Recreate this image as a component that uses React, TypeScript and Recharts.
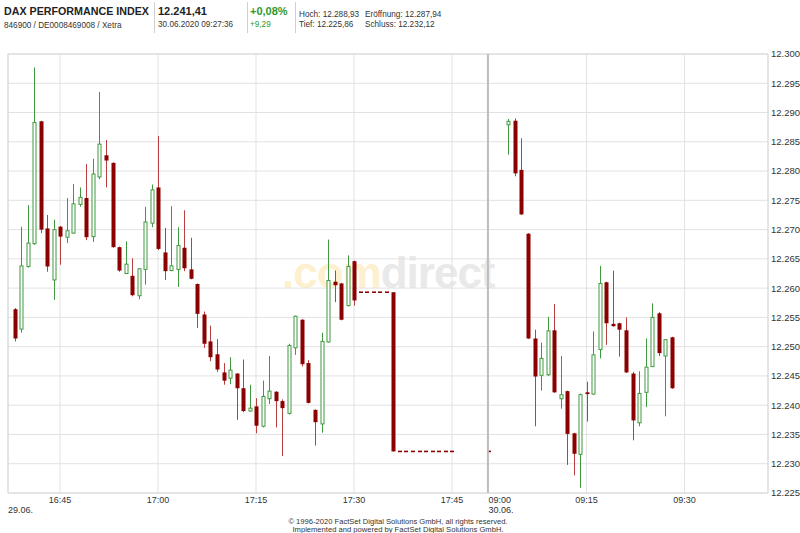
import React from 'react';
import { ComposedChart, Bar, XAxis, YAxis, CartesianGrid, ReferenceLine, ReferenceArea } from 'recharts';

// minute candles, 29.06. afternoon and 30.06. morning
const times = [
  '16:38', '16:39', '16:40', '16:41', '16:42', '16:43', '16:44', '16:45', '16:46', '16:47',
  '16:48', '16:49', '16:50', '16:51', '16:52', '16:53', '16:54', '16:55', '16:56', '16:57',
  '16:58', '16:59', '17:00', '17:01', '17:02', '17:03', '17:04', '17:05', '17:06', '17:07',
  '17:08', '17:09', '17:10', '17:11', '17:12', '17:13', '17:14', '17:15', '17:16', '17:17',
  '17:18', '17:19', '17:20', '17:21', '17:22', '17:23', '17:24', '17:25', '17:26', '17:27',
  '17:28', '17:29', '17:30', '17:31', '17:32', '17:33', '17:34', '17:35', '17:36', '17:37',
  '17:38', '17:39', '17:40', '17:41', '17:42', '17:43', '17:44', '17:45',
  '09:00', '09:03', '09:04', '09:05', '09:06', '09:07', '09:08', '09:09', '09:10', '09:11',
  '09:12', '09:13', '09:14', '09:15', '09:16', '09:17', '09:18', '09:19', '09:20', '09:21',
  '09:22', '09:23', '09:24', '09:25', '09:26', '09:27', '09:28',
];

const opens = [
  12256.4, 12253.0, 12263.7, 12267.6, 12288.5, 12270.2, 12261.4, 12270.5, 12268.7, 12269.4,
  12274.3, 12275.4, 12268.8, 12279.0, 12282.7, 12281.4, 12267.0, 12262.5, 12262.1, 12258.7,
  12263.2, 12271.1, 12277.2, 12266.1, 12263.0, 12263.2, 12266.9, 12263.2, 12260.7, 12255.5,
  12250.9, 12248.7, 12245.6, 12244.6, 12245.4, 12242.9, 12239.0, 12239.8, 12236.4, 12241.1,
  12242.3, 12240.7, 12238.6, 12249.8, 12254.6, 12247.2, 12239.2, 12236.8, 12250.8, 12261.1,
  12260.8, 12257.0, 12264.6, 12259.3, 12259.3, 12259.3, 12259.3, 12259.3, 12259.3, 12232.1,
  12232.1, 12232.1, 12232.1, 12232.1, 12232.1, 12232.1, 12232.1, 12232.1,
  12232.1, 12287.9, 12288.6, 12280.2, 12269.3, 12251.4, 12245.1, 12245.2, 12252.8, 12241.1,
  12242.4, 12235.2, 12231.6, 12242.2, 12241.9, 12249.5, 12261.0, 12253.9, 12254.0, 12252.8,
  12245.4, 12237.0, 12242.2, 12246.6, 12255.7, 12248.4, 12251.6,
];

const highs = [
  12256.6, 12270.5, 12274.2, 12297.7, 12288.6, 12272.5, 12271.7, 12270.6, 12275.4, 12277.8,
  12277.2, 12281.2, 12282.1, 12293.5, 12285.3, 12281.5, 12267.1, 12268.0, 12265.1, 12263.4,
  12273.9, 12277.7, 12286.0, 12270.3, 12274.0, 12270.4, 12273.3, 12268.6, 12260.8, 12256.0,
  12253.6, 12251.3, 12247.2, 12248.2, 12245.5, 12247.8, 12243.5, 12241.2, 12244.2, 12248.4,
  12242.4, 12241.0, 12250.5, 12255.3, 12254.7, 12247.7, 12239.3, 12252.4, 12268.3, 12263.0,
  12260.9, 12265.6, 12264.7, 12259.3, 12259.3, 12259.3, 12259.3, 12259.3, 12259.3, 12232.1,
  12232.1, 12232.1, 12232.1, 12232.1, 12232.1, 12232.1, 12232.1, 12232.1,
  12232.1, 12288.9, 12289.0, 12285.6, 12269.4, 12252.9, 12250.7, 12255.1, 12257.3, 12248.4,
  12242.5, 12235.3, 12242.0, 12244.0, 12252.6, 12263.8, 12261.1, 12263.0, 12254.1, 12255.0,
  12245.7, 12245.8, 12251.4, 12257.4, 12255.9, 12251.3, 12251.7,
];

const lows = [
  12250.9, 12252.4, 12263.5, 12267.4, 12269.4, 12262.8, 12258.0, 12264.0, 12267.7, 12269.3,
  12273.9, 12268.2, 12267.9, 12278.6, 12277.2, 12266.9, 12262.8, 12262.4, 12258.6, 12258.1,
  12260.6, 12270.4, 12266.5, 12261.4, 12262.9, 12260.2, 12262.9, 12261.5, 12253.2, 12249.8,
  12247.5, 12245.7, 12243.5, 12243.6, 12237.5, 12238.8, 12238.9, 12235.2, 12236.2, 12240.2,
  12236.2, 12231.3, 12238.4, 12248.6, 12246.6, 12240.3, 12233.1, 12235.3, 12250.7, 12257.6,
  12254.5, 12256.9, 12257.0, 12259.3, 12259.3, 12259.3, 12259.3, 12259.3, 12232.1, 12232.1,
  12232.1, 12232.1, 12232.1, 12232.1, 12232.1, 12232.1, 12232.1, 12232.1,
  12232.1, 12282.8, 12279.1, 12272.5, 12251.3, 12236.4, 12242.5, 12245.0, 12242.1, 12239.4,
  12229.8, 12228.0, 12225.9, 12237.2, 12241.8, 12248.0, 12250.3, 12253.4, 12248.3, 12245.5,
  12234.0, 12236.4, 12239.7, 12246.5, 12248.4, 12238.1, 12242.8,
];

const closes = [
  12251.4, 12263.8, 12267.7, 12288.3, 12270.0, 12263.7, 12270.0, 12268.8, 12269.8, 12274.4,
  12275.5, 12268.7, 12279.5, 12284.6, 12281.8, 12267.0, 12263.0, 12264.1, 12258.8, 12263.3,
  12271.3, 12276.8, 12266.7, 12262.9, 12263.8, 12267.3, 12263.4, 12261.6, 12255.6, 12250.5,
  12248.2, 12246.1, 12244.2, 12246.0, 12242.9, 12239.0, 12239.5, 12236.5, 12241.5, 12242.4,
  12240.7, 12239.5, 12250.2, 12255.2, 12247.0, 12240.4, 12237.1, 12250.9, 12261.3, 12260.5,
  12254.6, 12263.7, 12257.9, 12259.3, 12259.3, 12259.3, 12259.3, 12259.3, 12232.1, 12232.1,
  12232.1, 12232.1, 12232.1, 12232.1, 12232.1, 12232.1, 12232.1, 12232.1,
  12232.1, 12288.5, 12279.6, 12272.6, 12251.4, 12244.9, 12248.0, 12252.7, 12242.2, 12241.8,
  12235.1, 12231.7, 12241.8, 12241.9, 12248.6, 12260.8, 12254.0, 12253.5, 12252.9, 12245.6,
  12237.4, 12242.0, 12246.5, 12255.0, 12248.9, 12251.2, 12242.9,
];

const xTickLabels = ['16:45', '17:00', '17:15', '17:30', '17:45', '09:00', '09:15', '09:30'];
const dateLabels = ['29.06.', '30.06.'];
const yTicks = [12225, 12230, 12235, 12240, 12245, 12250, 12255, 12260, 12265, 12270, 12275, 12280, 12285, 12290, 12295, 12300];

const RED = '#8b0000';
const RED_WICK = '#b84040';
const GREEN = '#3f9a3f';

// day 1 minutes count from 16:38, the overnight gap is collapsed
const DAY2_START = 72.6;
const X_MIN = -0.96;
const X_MAX = 115.37;

const slotOf = (t: string) => {
  const [h, m] = t.split(':').map(Number);
  const mins = h * 60 + m;
  return h >= 12 ? mins - (16 * 60 + 38) : DAY2_START + (mins - 9 * 60);
};

const data = times.map((t, i) => ({
  slot: slotOf(t),
  time: t,
  open: opens[i],
  high: highs[i],
  low: lows[i],
  close: closes[i],
  range: [lows[i], highs[i]],
}));

const tickSlots = xTickLabels.map(slotOf);

const fmtPrice = (v: number) => {
  const s = String(Math.round(v));
  return s.slice(0, s.length - 3) + '.' + s.slice(-3);
};

const Candle = (props: any) => {
  const { x, y, width, height, payload } = props;
  if (!payload) return null;
  const { open, close, high, low } = payload;
  const c = Math.round(x + width / 2);
  const top = Math.min(y, y + height);
  const bot = Math.max(y, y + height);
  if (high === low) {
    return <line x1={c - 2} x2={c + 2} y1={top} y2={top} stroke={RED} strokeWidth={1.6} />;
  }
  const k = (bot - top) / (high - low);
  const yOf = (p: number) => top + (high - p) * k;
  const up = close >= open;
  const bTop = yOf(Math.max(open, close));
  const bBot = yOf(Math.min(open, close));
  return (
    <g>
      <line x1={c + 0.5} x2={c + 0.5} y1={top} y2={bot} stroke={up ? GREEN : RED_WICK} strokeWidth={1} />
      {up ? (
        <rect x={c - 1} y={bTop} width={3} height={Math.max(bBot - bTop, 1.5)} fill="#fff" stroke={GREEN} strokeWidth={1} />
      ) : (
        <rect x={c - 1.5} y={bTop} width={4} height={Math.max(bBot - bTop, 1.5)} fill={RED} />
      )}
    </g>
  );
};

const XTick = (props: any) => {
  const { x, y, payload } = props;
  const v = payload.value;
  if (Math.abs(v - X_MIN) < 0.01) {
    return (
      <text x={x} y={y + 20} fontSize={9} fill="#333" textAnchor="start">{dateLabels[0]}</text>
    );
  }
  const idx = tickSlots.findIndex((s) => Math.abs(s - v) < 0.01);
  const label = xTickLabels[idx];
  if (label === '09:00') {
    return (
      <g>
        <text x={x} y={y + 10} fontSize={9} fill="#333" textAnchor="start">{label}</text>
        <text x={x} y={y + 20} fontSize={9} fill="#333" textAnchor="start">{dateLabels[1]}</text>
      </g>
    );
  }
  return <text x={x} y={y + 10} fontSize={9} fill="#333" textAnchor="middle">{label}</text>;
};

const font = '"Liberation Sans", Arial, sans-serif';

export default function App() {
  return (
    <div style={{ position: 'absolute', left: 0, top: 0, width: 800, height: 533, background: '#fff', fontFamily: font }}>
      <svg width={800} height={533} style={{ position: 'absolute', left: 0, top: 0 }} fontFamily={font}>
        <text x={4} y={15} fontSize={10.7} fontWeight="bold" fill="#222">DAX PERFORMANCE INDEX</text>
        <text x={4} y={27.5} fontSize={8.2} fill="#333">846900 / DE0008469008 / Xetra</text>
        <line x1={154.5} x2={154.5} y1={2} y2={33} stroke="#cfcfcf" />
        <text x={158} y={15} fontSize={11} fontWeight="bold" fill="#222">12.241,41</text>
        <text x={158} y={27} fontSize={8.2} fill="#333">30.06.2020 09:27:36</text>
        <line x1={247.5} x2={247.5} y1={2} y2={33} stroke="#cfcfcf" />
        <text x={250} y={15} fontSize={11} fontWeight="bold" fill="#2e9a2e">+0,08%</text>
        <text x={250} y={27} fontSize={8.2} fill="#2e9a2e">+9,29</text>
        <line x1={295.5} x2={295.5} y1={2} y2={33} stroke="#cfcfcf" />
        <text x={299} y={16.5} fontSize={8.2} fill="#333">Hoch: 12.288,93</text>
        <text x={365} y={16.5} fontSize={8.2} fill="#333">Eröffnung: 12.287,94</text>
        <text x={299} y={27} fontSize={8.2} fill="#333">Tief: 12.225,86</text>
        <text x={365} y={27} fontSize={8.2} fill="#333">Schluss: 12.232,12</text>

        <text x={282} y={288} fontSize={44} fontWeight="bold" letterSpacing={-1}>
          <tspan fill="#fcf0cf">.com</tspan>
          <tspan fill="#e9e9e9">direct</tspan>
        </text>

        <text x={398} y={523.5} fontSize={7.6} fill="#333" textAnchor="middle">© 1996-2020 FactSet Digital Solutions GmbH, all rights reserved.</text>
        <text x={398} y={531.5} fontSize={7.6} fill="#333" textAnchor="middle">Implemented and powered by FactSet Digital Solutions GmbH.</text>
      </svg>
      <div style={{ position: 'absolute', left: 0, top: 0 }}>
        <ComposedChart width={800} height={533} data={data} margin={{ top: 54, right: 0, left: 8, bottom: 10 }}>
          <CartesianGrid stroke="#e2e2e2" />
          <ReferenceArea x1={X_MIN} x2={X_MAX} y1={12225} y2={12300} fill="none" stroke="#d8d8d8" ifOverflow="extendDomain" />
          <ReferenceLine x={72.5} stroke="#bdbdbd" strokeWidth={2} />
          <XAxis
            dataKey="slot"
            type="number"
            domain={[X_MIN, X_MAX]}
            allowDataOverflow
            ticks={[X_MIN, ...tickSlots]}
            interval={0}
            height={30}
            axisLine={false}
            tickLine={false}
            tickSize={0}
            tickMargin={0}
            tick={<XTick />}
          />
          <YAxis
            orientation="right"
            type="number"
            domain={[12225, 12300]}
            allowDataOverflow
            ticks={yTicks}
            interval={0}
            width={32}
            axisLine={false}
            tickLine={false}
            tickSize={1}
            tickMargin={2}
            tickFormatter={fmtPrice}
            tick={{ fontSize: 9.5, fill: '#333', fontFamily: font }}
          />
          <Bar dataKey="range" barSize={5} shape={Candle} isAnimationActive={false} />
        </ComposedChart>
      </div>
    </div>
  );
}
